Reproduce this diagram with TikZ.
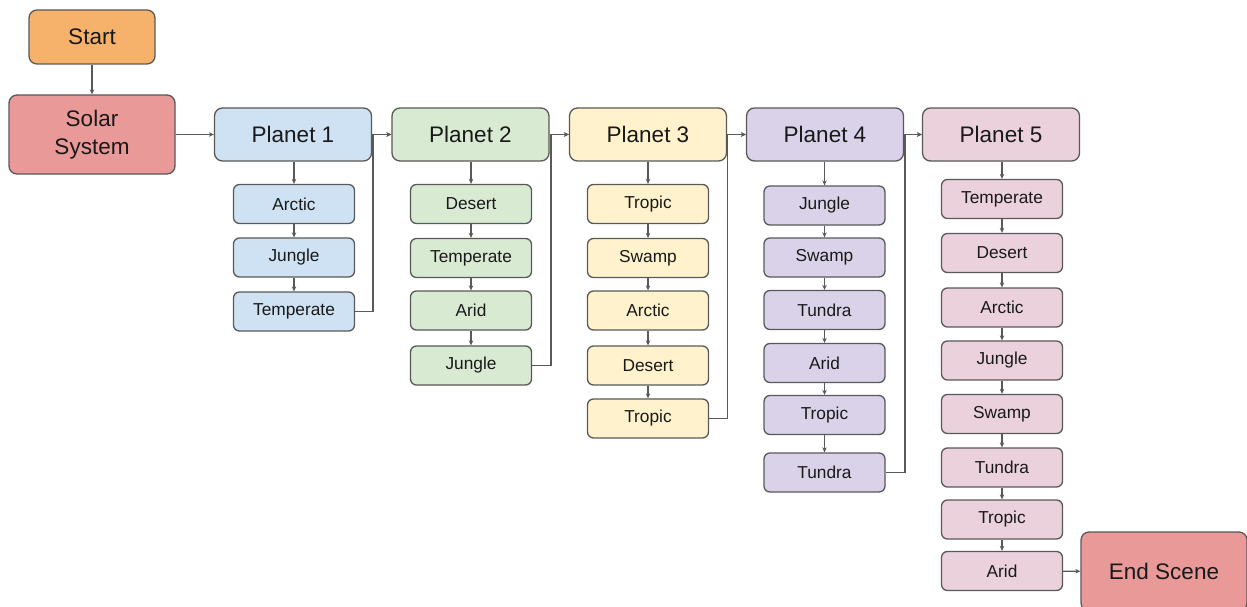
\documentclass[tikz,border=0pt]{standalone}
\usepackage{fontspec}
\setmainfont{Liberation Sans}
\usetikzlibrary{arrows.meta,calc}
\definecolor{lineC}{HTML}{595959}
\definecolor{cStart}{HTML}{F6B26B}
\definecolor{cRed}{HTML}{EA9999}
\definecolor{cBlue}{HTML}{CFE2F3}
\definecolor{cGreen}{HTML}{D9EAD3}
\definecolor{cYellow}{HTML}{FFF2CC}
\definecolor{cPurple}{HTML}{D9D2E9}
\definecolor{cPink}{HTML}{EAD1DC}
\tikzset{
  bigbox/.style={draw=lineC, line width=1.3pt, rounded corners=8pt, inner sep=0pt, align=center,
    font=\fontsize{22.5}{28}\selectfont, text=black!90},
  planetbox/.style={bigbox, minimum width=157pt, minimum height=53pt},
  subbox/.style={draw=lineC, line width=1.3pt, rounded corners=6pt, inner sep=0pt,
    minimum width=121pt, minimum height=39pt, font=\fontsize{17.3}{20}\selectfont, text=black!90},
  arr/.style={draw=lineC, line width=1.2pt, -{Stealth[length=5pt,width=4.5pt]}},
}
\begin{document}
\begin{tikzpicture}[x=1pt,y=-1pt]
\clip (0,0) rectangle (1247,607);
\fill[white] (0,0) rectangle (1247,607);

\node[bigbox, fill=cStart, minimum width=126pt, minimum height=54pt] (start) at (92,37) {Start};
\node[bigbox, fill=cRed, minimum width=166pt, minimum height=79pt] (solar) at (92,134.5) {Solar\\System};

\node[planetbox, fill=cBlue] (p1) at (293,134.5) {Planet 1};
\node[planetbox, fill=cGreen] (p2) at (470.5,134.5) {Planet 2};
\node[planetbox, fill=cYellow] (p3) at (648,134.5) {Planet 3};
\node[planetbox, fill=cPurple] (p4) at (825,134.5) {Planet 4};
\node[planetbox, fill=cPink] (p5) at (1001,134.5) {Planet 5};

% Planet 1
\node[subbox, fill=cBlue] (a1) at (294,204) {Arctic};
\node[subbox, fill=cBlue] (a2) at (294,257.5) {Jungle};
\node[subbox, fill=cBlue] (a3) at (294,311.5) {Temperate};
% Planet 2
\node[subbox, fill=cGreen] (b1) at (471,204) {Desert};
\node[subbox, fill=cGreen] (b2) at (471,258) {Temperate};
\node[subbox, fill=cGreen] (b3) at (471,310.5) {Arid};
\node[subbox, fill=cGreen] (b4) at (471,365.5) {Jungle};
% Planet 3
\node[subbox, fill=cYellow] (c1) at (648,204) {Tropic};
\node[subbox, fill=cYellow] (c2) at (648,258) {Swamp};
\node[subbox, fill=cYellow] (c3) at (648,310.5) {Arctic};
\node[subbox, fill=cYellow] (c4) at (648,365.5) {Desert};
\node[subbox, fill=cYellow] (c5) at (648,418.5) {Tropic};
% Planet 4
\node[subbox, fill=cPurple] (d1) at (824.5,205.5) {Jungle};
\node[subbox, fill=cPurple] (d2) at (824.5,257.5) {Swamp};
\node[subbox, fill=cPurple] (d3) at (824.5,310) {Tundra};
\node[subbox, fill=cPurple] (d4) at (824.5,363) {Arid};
\node[subbox, fill=cPurple] (d5) at (824.5,415) {Tropic};
\node[subbox, fill=cPurple] (d6) at (824.5,472.5) {Tundra};
% Planet 5
\node[subbox, fill=cPink] (e1) at (1002,199) {Temperate};
\node[subbox, fill=cPink] (e2) at (1002,253) {Desert};
\node[subbox, fill=cPink] (e3) at (1002,307.5) {Arctic};
\node[subbox, fill=cPink] (e4) at (1002,360.5) {Jungle};
\node[subbox, fill=cPink] (e5) at (1002,414) {Swamp};
\node[subbox, fill=cPink] (e6) at (1002,467.5) {Tundra};
\node[subbox, fill=cPink] (e7) at (1002,519.5) {Tropic};
\node[subbox, fill=cPink] (e8) at (1002,571) {Arid};

\node[bigbox, fill=cRed, minimum width=166pt, minimum height=79pt] (endsc) at (1164,571.5) {End Scene};

% connectors
\draw[arr] (start) -- (solar);
\draw[arr] (solar) -- (p1);
\draw[arr] (p1) -- (p2);
\draw[arr] (p2) -- (p3);
\draw[arr] (p3) -- (p4);
\draw[arr] (p4) -- (p5);

\coordinate (j1) at (373,134.5);
\coordinate (j2) at (551,134.5);
\coordinate (j3) at (727.5,134.5);
\coordinate (j4) at (905,134.5);
\draw[arr] (a3.east) -| (j1) -- (p2.west);
\draw[arr] (b4.east) -| (j2) -- (p3.west);
\draw[arr] (c5.east) -| (j3) -- (p4.west);
\draw[arr] (d6.east) -| (j4) -- (p5.west);

\draw[arr] (p1.south -| a1) -- (a1);
\draw[arr] (a1) -- (a2);
\draw[arr] (a2) -- (a3);

\draw[arr] (p2.south -| b1) -- (b1);
\draw[arr] (b1) -- (b2);
\draw[arr] (b2) -- (b3);
\draw[arr] (b3) -- (b4);

\draw[arr] (p3.south -| c1) -- (c1);
\draw[arr] (c1) -- (c2);
\draw[arr] (c2) -- (c3);
\draw[arr] (c3) -- (c4);
\draw[arr] (c4) -- (c5);

\draw[arr] (p4.south -| d1) -- (d1);
\draw[arr] (d1) -- (d2);
\draw[arr] (d2) -- (d3);
\draw[arr] (d3) -- (d4);
\draw[arr] (d4) -- (d5);
\draw[arr] (d5) -- (d6);

\draw[arr] (p5.south -| e1) -- (e1);
\draw[arr] (e1) -- (e2);
\draw[arr] (e2) -- (e3);
\draw[arr] (e3) -- (e4);
\draw[arr] (e4) -- (e5);
\draw[arr] (e5) -- (e6);
\draw[arr] (e6) -- (e7);
\draw[arr] (e7) -- (e8);

\draw[arr] (e8) -- (endsc);
\end{tikzpicture}
\end{document}
